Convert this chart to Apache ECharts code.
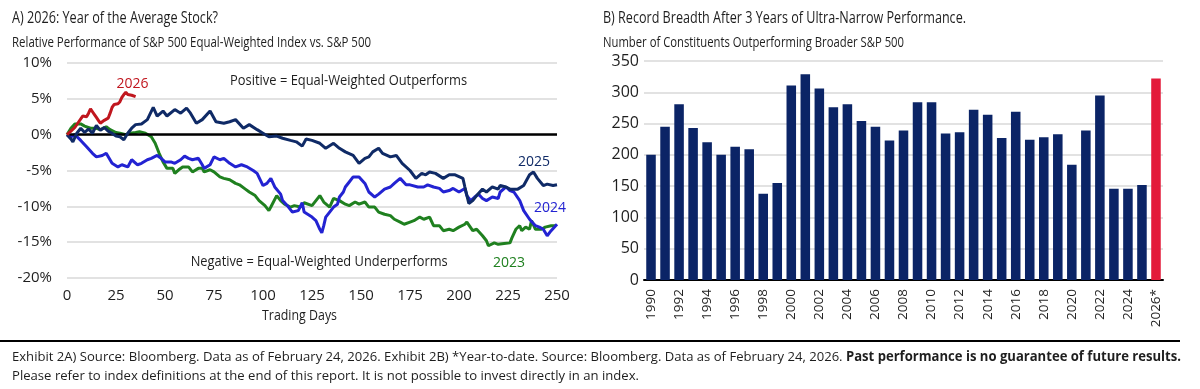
<!DOCTYPE html>
<html><head><meta charset="utf-8">
<script src="https://cdn.jsdelivr.net/npm/echarts@6/dist/echarts.min.js"></script>
<style>html,body{margin:0;padding:0;background:#fff}#c{width:1200px;height:389px}</style>
</head><body><div id="c"></div>
<script>
// ---- Data ----
const pts2023 = [[0,0],[2,0.9],[4,1.5],[7,1.5],[9,1.2],[12,0.9],[15,0.9],[17,0.7],[20,1.1],[22,0.7],[25,0.3],[27,0.2],[30,0],[32,0.2],[35,0.3],[37,0.4],[40,0.2],[43,-0.3],[45,-1.2],[47,-2.6],[49,-3.8],[51,-4.7],[54,-4.7],[55,-5.4],[57,-4.9],[59,-4.5],[62,-4.5],[64,-5.2],[67,-4.7],[69,-4.7],[70,-5.2],[73,-4.9],[75,-5.2],[78,-5.9],[80,-6.1],[83,-6.3],[86,-6.8],[88,-7.0],[91,-7.6],[93,-8.0],[96,-8.5],[98,-9.2],[101,-9.9],[103,-10.6],[104,-10.1],[107,-8.5],[109,-9.2],[111,-9.7],[114,-10.1],[116,-9.9],[119,-10.1],[121,-9.5],[125,-9.9],[127,-9.2],[129,-8.5],[131,-9.4],[134,-10.1],[136,-8.9],[139,-9.2],[142,-9.7],[144,-9.9],[147,-9.4],[149,-9.7],[152,-9.4],[154,-10.1],[157,-10.1],[159,-10.8],[162,-11.1],[165,-11.3],[167,-11.8],[170,-12.2],[172,-12.5],[175,-12.2],[177,-12.0],[180,-11.5],[182,-11.8],[185,-11.5],[187,-12.7],[190,-12.7],[192,-13.4],[195,-13.2],[197,-13.4],[200,-12.9],[203,-12.5],[204,-12.2],[207,-13.4],[209,-13.2],[212,-14.1],[214,-14.8],[215,-15.5],[218,-15.1],[220,-15.3],[223,-15.2],[226,-15.1],[227,-14.4],[229,-13.2],[231,-12.7],[232,-13.4],[234,-12.9],[236,-13.2],[237,-12.0],[239,-13.2],[242,-13.2],[244,-12.9],[247,-12.7],[249,-12.7]];
const pts2024 = [[0,0],[2,-0.3],[4,0],[7,-0.8],[10,-1.7],[13,-2.6],[15,-3.1],[18,-2.9],[20,-2.6],[23,-4.0],[26,-4.5],[28,-4.2],[31,-4.5],[33,-3.5],[36,-4.2],[38,-4.0],[41,-3.5],[43,-3.3],[46,-2.9],[48,-3.3],[50,-3.8],[53,-3.8],[55,-4.0],[58,-3.5],[60,-3.0],[62,-3.3],[64,-3.5],[67,-3.3],[69,-4.2],[70,-4.7],[73,-4.2],[75,-3.1],[78,-3.5],[80,-3.3],[83,-4.0],[86,-4.5],[89,-4.2],[92,-4.5],[95,-5.0],[97,-5.4],[100,-7.1],[102,-6.8],[104,-6.1],[106,-7.3],[109,-8.3],[110,-9.2],[113,-10.1],[115,-10.8],[118,-10.6],[120,-9.5],[121,-10.8],[122,-10.6],[125,-11.5],[127,-12.0],[129,-13.2],[130,-13.7],[131,-12.7],[132,-11.5],[134,-10.8],[136,-10.1],[138,-9.7],[139,-8.7],[141,-8.0],[142,-7.3],[144,-6.6],[146,-5.9],[147,-5.7],[149,-5.9],[152,-6.8],[154,-8.0],[157,-8.7],[159,-8.3],[162,-7.6],[165,-7.3],[167,-6.8],[170,-6.1],[171,-5.9],[173,-7.0],[175,-7.0],[176,-6.8],[179,-7.3],[182,-7.3],[184,-7.0],[187,-7.3],[190,-7.5],[192,-8.0],[195,-7.8],[197,-7.5],[200,-8.0],[203,-7.5],[204,-8.5],[206,-9.2],[208,-8.7],[210,-8.3],[212,-8.9],[214,-9.2],[217,-8.7],[220,-8.9],[221,-8.0],[224,-7.3],[226,-7.8],[228,-8.0],[231,-9.2],[233,-10.6],[236,-11.8],[237,-12.0],[239,-12.7],[241,-12.9],[243,-13.2],[245,-14.1],[247,-13.4],[250,-12.5]];
const pts2025 = [[0,0],[2,-0.6],[3,-1.0],[5,0.2],[7,0.9],[9,0.3],[11,0.8],[13,0.2],[15,1.3],[17,0.6],[19,1.0],[21,0.5],[23,0.2],[25,-0.2],[27,-0.3],[29,-0.7],[31,0.2],[33,0.9],[35,1.4],[38,1.5],[41,2.1],[44,3.8],[46,2.6],[49,3.3],[51,2.6],[55,3.5],[58,3.0],[61,3.7],[63,3.0],[66,1.6],[69,2.1],[73,3.3],[76,1.8],[80,1.6],[83,1.8],[86,2.1],[90,0.9],[93,1.4],[97,0.7],[100,0.2],[103,-0.3],[107,-0.2],[110,-0.5],[114,-0.8],[117,-1.0],[120,-1.6],[122,-0.6],[125,-0.8],[129,-1.2],[132,-1.9],[136,-1.2],[139,-1.9],[142,-2.4],[146,-2.9],[149,-4.0],[152,-3.3],[154,-3.1],[156,-2.4],[159,-1.9],[161,-2.6],[165,-3.1],[168,-2.9],[171,-4.0],[175,-5.0],[178,-6.1],[181,-5.4],[183,-5.6],[185,-5.2],[188,-5.4],[192,-6.1],[195,-5.6],[198,-5.6],[202,-6.1],[203,-7.3],[205,-9.6],[207,-9.2],[209,-8.5],[212,-7.6],[214,-8.0],[217,-7.3],[220,-7.6],[221,-7.1],[224,-7.3],[226,-7.6],[230,-7.6],[233,-7.1],[236,-5.6],[238,-5.2],[240,-6.1],[243,-7.1],[245,-6.9],[248,-7.1],[250,-7.0]];
const pts2026 = [[0,0],[2,0.5],[4,1.0],[6,1.8],[8,2.6],[9,2.8],[10,2.5],[11,3.0],[12,3.6],[13,3.2],[14,2.8],[15,2.4],[16,2.0],[17,1.6],[18,1.8],[19,2.0],[20,2.1],[21,2.3],[22,3.0],[23,3.8],[24,4.2],[25,4.0],[26,4.3],[27,4.6],[28,5.2],[29,5.6],[30,5.9],[31,5.6],[32,5.8],[33,5.5],[34,5.4],[35,5.3]];

const years = ['1990','1991','1992','1993','1994','1995','1996','1997','1998','1999','2000','2001','2002','2003','2004','2005','2006','2007','2008','2009','2010','2011','2012','2013','2014','2015','2016','2017','2018','2019','2020','2021','2022','2023','2024','2025','2026*'];
const breadth = [200,245,281,243,220,200,213,209,138,155,311,329,306,276,281,254,245,223,239,284,284,234,236,272,264,227,269,224,228,233,184,239,295,146,146,152,322];

const titleA = 'A) 2026: Year of the Average Stock?';
const subA = 'Relative Performance of S&P 500 Equal-Weighted Index vs. S&P 500';
const titleB = 'B) Record Breadth After 3 Years of Ultra-Narrow Performance.';
const subB = 'Number of Constituents Outperforming Broader S&P 500';
const notePos = 'Positive = Equal-Weighted Outperforms';
const noteNeg = 'Negative = Equal-Weighted Underperforms';
const foot1a = 'Exhibit 2A) Source: Bloomberg. Data as of February 24, 2026. Exhibit 2B) *Year-to-date. Source: Bloomberg. Data as of February 24, 2026. ';
const foot1b = 'Past performance is no guarantee of future results.';
const foot2 = 'Please refer to index definitions at the end of this report. It is not possible to invest directly in an index.';

// ---- Styles ----
const FONT = "'Open Sans', 'Noto Sans', sans-serif";
const TXT = '#1e1e1e';
const GRID = '#d9d9d9';
const C23 = '#1f801f', C24 = '#2323d2', C25 = '#0f2a66', C26 = '#c0161e';
const BAR = '#0b2466', BAR_HI = '#e31a3a';

const ctx = document.createElement('canvas').getContext('2d');
function tw(t, size, weight) { ctx.font = (weight || 'normal') + ' ' + size + 'px ' + FONT; return ctx.measureText(t).width; }

const chart = echarts.init(document.getElementById('c'));
function lineSeries(name, pts, color, z) {
  return { name, type: 'line', xAxisIndex: 0, yAxisIndex: 0, data: pts, showSymbol: false, symbol: 'none', z,
    lineStyle: { color, width: 3 }, itemStyle: { color } };
}
chart.setOption({
  animation: false,
  backgroundColor: '#fff',
  grid: [
    { left: 67, top: 63, width: 490, height: 215 },
    { left: 644, top: 61, width: 519, height: 219 }
  ],
  xAxis: [
    { gridIndex: 0, type: 'value', min: 0, max: 250, interval: 25,
      axisLine: { show: false }, axisTick: { show: false }, splitLine: { show: false },
      axisLabel: { fontSize: 15, color: TXT, margin: 10, fontFamily: FONT } },
    { gridIndex: 1, type: 'category', data: years,
      axisLine: { lineStyle: { color: '#000', width: 2 } }, axisTick: { show: false },
      axisLabel: { rotate: 90, interval: 1, fontSize: 13.5, color: TXT, margin: 9, fontFamily: FONT } }
  ],
  yAxis: [
    { gridIndex: 0, type: 'value', min: -20, max: 10, interval: 5,
      axisLine: { show: false }, axisTick: { show: false },
      axisLabel: { formatter: '{value}%', fontSize: 15, color: TXT, margin: 15, fontFamily: FONT },
      splitLine: { lineStyle: { color: GRID, width: 1.5 } } },
    { gridIndex: 1, type: 'value', min: 0, max: 350, interval: 50,
      axisLine: { show: false }, axisTick: { show: false },
      axisLabel: { fontSize: 16, color: TXT, margin: 5, fontFamily: FONT },
      splitLine: { lineStyle: { color: GRID, width: 1.5 } } }
  ],
  series: [
    { type: 'line', xAxisIndex: 0, yAxisIndex: 0, data: [], z: 1,
      markLine: { silent: true, symbol: ['none', 'none'], label: { show: false },
        lineStyle: { color: '#000', width: 2.5, type: 'solid' }, data: [{ yAxis: 0 }] } },
    lineSeries('2023', pts2023, C23, 3),
    lineSeries('2024', pts2024, C24, 4),
    lineSeries('2025', pts2025, C25, 5),
    lineSeries('2026', pts2026, C26, 6),
    { type: 'bar', xAxisIndex: 1, yAxisIndex: 1, data: breadth, barCategoryGap: '32%',
      itemStyle: { color: p => p.dataIndex === breadth.length - 1 ? BAR_HI : BAR } }
  ]
});

function fitText(text, x, y, size, weight, width, color) {
  return { type: 'text', x, y, scaleX: width / tw(text, size, weight), z: 50,
    style: { text, fontSize: size, fontFamily: FONT, fontWeight: weight, fill: color || TXT, verticalAlign: 'middle' } };
}
function at(d, v) { return chart.convertToPixel({ gridIndex: 0 }, [d, v]); }
function yearLabel(t, d, v, color) {
  const p = at(d, v);
  return { type: 'text', x: p[0], y: p[1], z: 50,
    style: { text: t, fontSize: 14, fontFamily: FONT, fill: color, align: 'center', verticalAlign: 'middle' } };
}
const pPos = at(83.2, 7.5), pNeg = at(63.1, -17.7);
const f1w = tw(foot1a, 13.5, 'normal') + tw(foot1b, 13.5, 'bold');
const f1s = (1181 - 12) / f1w;

chart.setOption({
  graphic: [
    fitText(titleA, 12, 18, 17, 'normal', 206),
    fitText(subA, 12, 43, 14.5, 'normal', 359),
    fitText(titleB, 603, 18, 17, 'normal', 363),
    fitText(subB, 603, 43, 14.5, 'normal', 301),
    fitText(notePos, pPos[0], pPos[1], 14.5, 'normal', 237),
    fitText(noteNeg, pNeg[0], pNeg[1], 14.5, 'normal', 257),
    fitText('Trading Days', 262, 316, 15, 'normal', 75),
    yearLabel('2026', 33.4, 7.0, C26),
    yearLabel('2025', 238.3, -3.8, C25),
    yearLabel('2024', 246.4, -10.2, C24),
    yearLabel('2023', 225.5, -17.9, C23),
    { type: 'line', z: 50, shape: { x1: 0, y1: 341, x2: 1180, y2: 341 }, style: { stroke: '#000', lineWidth: 2 } },
    { type: 'text', x: 12, y: 357, scaleX: f1s, z: 50,
      style: { text: '{a|' + foot1a + '}{b|' + foot1b + '}', verticalAlign: 'middle',
        rich: { a: { fontSize: 13.5, fontFamily: FONT, fill: TXT, fontWeight: 'normal' },
                b: { fontSize: 13.5, fontFamily: FONT, fill: TXT, fontWeight: 'bold' } } } },
    fitText(foot2, 12, 376, 13.5, 'normal', 627)
  ]
});
</script></body></html>
